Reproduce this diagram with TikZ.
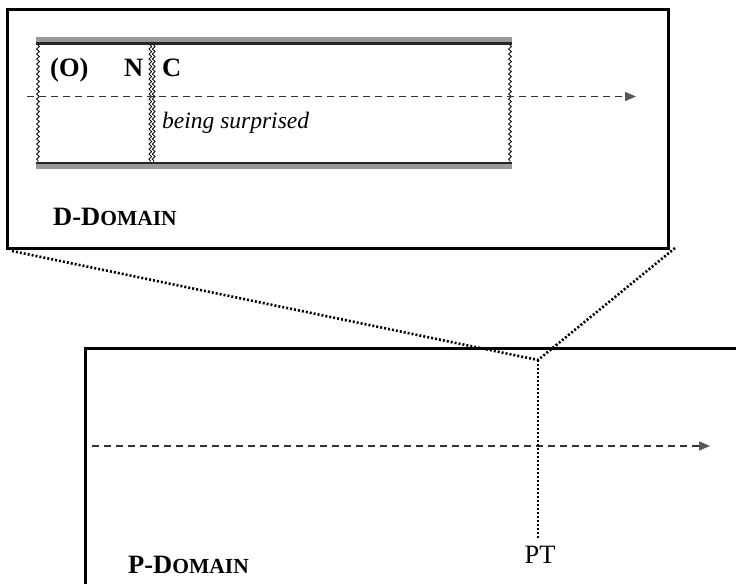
\documentclass[tikz,border=0pt]{standalone}
\usepackage{fontspec}
\setmainfont{Liberation Serif}
\usetikzlibrary{decorations.pathmorphing,arrows.meta}

\tikzset{
  frame/.style={draw=black, line width=3bp, inner sep=0pt, fill=none},
  timeline/.style={draw=black!80, line width=1.3bp, dash pattern=on 7bp off 5bp,
    -{Triangle[length=11bp,width=9bp,fill=black!65,color=black!65]}},
  link/.style={draw=black, line width=2.6bp, dash pattern=on 2bp off 2bp},
  outer bar/.style={draw=black!40, line width=5bp},
  inner bar/.style={draw=black!85, line width=2.2bp},
  wavy/.style={draw=black, line width=0.8bp,
    decorate, decoration={snake, amplitude=1.4bp, segment length=5bp}},
  lbl/.style={inner sep=0pt, anchor=base west, font=\fontsize{26.5bp}{30bp}\selectfont\bfseries},
  domlabel/.style={inner sep=0pt, anchor=base west, font=\bfseries}
}
\newcommand{\dsc}[2]{{\fontsize{26.5bp}{30bp}\selectfont #1}{\fontsize{21.5bp}{24bp}\selectfont #2}}

\begin{document}
\begin{tikzpicture}[x=1bp,y=-1bp]
  \useasboundingbox (0,0) rectangle (736,584);
  \clip (0,0) rectangle (736,584);

  % discourse domain frame
  \node[frame, minimum width=660bp, minimum height=238bp] (dbox) at (338,129) {};

  % horizontal bars of the event band
  \draw[outer bar] (36,39.5) -- (512,39.5);
  \draw[inner bar] (36,43.5) -- (512,43.5);
  \draw[inner bar] (36,163) -- (512,163);
  \draw[outer bar] (36,166.5) -- (512,166.5);

  % open (wavy) edges and the N|C boundary
  \draw[wavy] (38,45) -- (38,162);
  \draw[wavy] (510,45) -- (510,162);
  \draw[wavy] (150.3,45) -- (150.3,162);
  \draw[wavy] (153.7,45) -- (153.7,162);

  % labels in the band
  \node[lbl] (o) at (50,77) {(O)};
  \node[lbl] (n) at (124,77) {N};
  \node[lbl] (c) at (162,77) {C};
  \node[inner sep=0pt, anchor=base west, font=\fontsize{23.5bp}{28bp}\selectfont\itshape]
    (bs) at (162,129) {being surprised};
  \node[domlabel] (dlab) at (53,225) {\dsc{D-D}{OMAIN}};

  % time line of the discourse domain
  \coordinate (dt0) at (27,96.5);
  \coordinate (dt1) at (636,96.5);
  \draw[timeline] (dt0) -- (dt1);

  % production domain frame
  \node[frame, anchor=north west, minimum width=720bp, minimum height=300bp] (pbox) at (84,347) {};

  % time line of the production domain
  \coordinate (pt0) at (92,446);
  \coordinate (pt1) at (710,446);
  \draw[timeline] (pt0) -- (pt1);

  % projection of the discourse domain onto the production time
  \coordinate (vx) at (538,360);
  \coordinate (dl) at (12,251);
  \coordinate (dr) at (675,248);
  \coordinate (ptend) at (538,540);
  \draw[link] (dl) -- (vx);
  \draw[link] (dr) -- (vx);
  \draw[link] (vx) -- (ptend);

  \node[inner sep=0pt, anchor=base, font=\fontsize{26.5bp}{30bp}\selectfont] (ptl) at (540,563) {PT};
  \node[domlabel] (plab) at (128,573) {\dsc{P-D}{OMAIN}};
\end{tikzpicture}
\end{document}
